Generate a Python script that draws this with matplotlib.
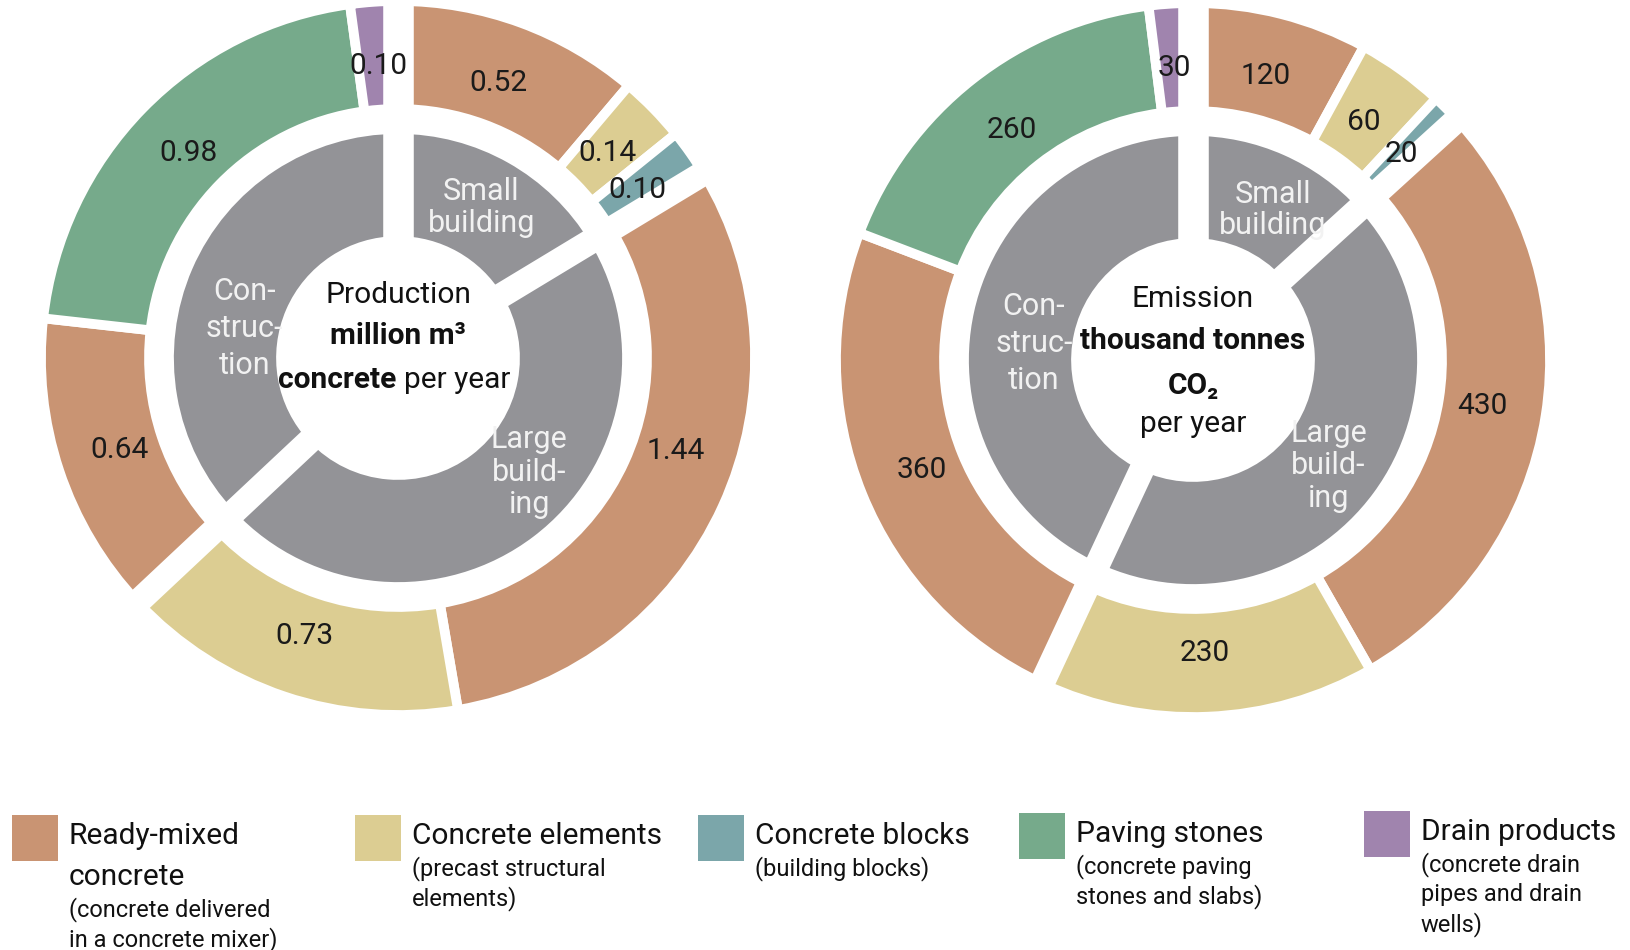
import numpy as np
import matplotlib.pyplot as plt
from matplotlib.patches import Rectangle

plt.rcParams['font.family'] = ['Roboto', 'DejaVu Sans']

# product categories and colours
products = ['Ready-mixed concrete', 'Concrete elements', 'Concrete blocks',
            'Paving stones', 'Drain products']
colors = {'Ready-mixed concrete': '#C99473', 'Concrete elements': '#DCCD92',
          'Concrete blocks': '#7BA6AA', 'Paving stones': '#76AA8B',
          'Drain products': '#A084AE'}
grey = '#939397'

# sectors (inner ring), clockwise from 12 o'clock
sectors = ['Small building', 'Large building', 'Construction']
sector_text = ['Small\nbuilding', 'Large\nbuild-\ning', 'Con-\nstruc-\ntion']

# outer ring per sector
prod_products = [['Ready-mixed concrete', 'Concrete elements', 'Concrete blocks'],
                 ['Ready-mixed concrete', 'Concrete elements'],
                 ['Ready-mixed concrete', 'Paving stones', 'Drain products']]
prod_values = [[0.52, 0.14, 0.10],
               [1.44, 0.73],
               [0.64, 0.98, 0.10]]
prod_labels = [['0.52', '0.14', '0.10'], ['1.44', '0.73'], ['0.64', '0.98', '0.10']]

emis_products = prod_products
emis_values = [[120, 60, 20],
               [430, 230],
               [360, 260, 30]]
emis_labels = [['120', '60', '20'], ['430', '230'], ['360', '260', '30']]

legend_titles = [['Ready-mixed', 'concrete'], ['Concrete elements'], ['Concrete blocks'],
                 ['Paving stones'], ['Drain products']]
legend_subs = [['(concrete delivered', 'in a concrete mixer)'],
               ['(precast structural', 'elements)'],
               ['(building blocks)'],
               ['(concrete paving', 'stones and slabs)'],
               ['(concrete drain', 'pipes and drain', 'wells)']]

W, H = 1631, 950
fig = plt.figure(figsize=(W / 100, H / 100), dpi=100)
ax = fig.add_axes([0, 0, 1, 1])

R_OUT, W_OUT = 357, 108
R_IN, W_IN = 229, 112
LW = 7
FS = 21.5


def donut(cx, cy, prods, vals, labels, sector_pos, center_lines, nudge):
    flat_v = [v for grp in vals for v in grp]
    flat_c = [colors[p] for grp in prods for p in grp]
    sec_v = [sum(g) for g in vals]
    total = sum(flat_v)
    kw = dict(startangle=90, counterclock=False, center=(cx, cy))
    ax.pie(flat_v, colors=flat_c, radius=R_OUT,
           wedgeprops=dict(width=W_OUT, edgecolor='white', linewidth=LW), **kw)
    ax.pie(sec_v, colors=[grey] * len(sec_v), radius=R_IN,
           wedgeprops=dict(width=W_IN, edgecolor='white', linewidth=LW), **kw)

    # wide white gaps between sectors
    bounds = np.concatenate([[0], np.cumsum(sec_v)])[:-1] / total
    for i, f in enumerate(bounds):
        a = np.deg2rad(90 - 360 * f)
        ax.plot([cx, cx + 420 * np.cos(a)], [cy, cy + 420 * np.sin(a)],
                color='white', lw=22 if i == 0 else 18, solid_capstyle='butt')

    # value labels in the middle of each outer wedge
    cum = np.cumsum(flat_v) - np.array(flat_v) / 2
    rl = 293
    for k, (c, lab) in enumerate(zip(cum, [l for g in labels for l in g])):
        a = np.deg2rad(90 - 360 * c / total - nudge.get(k, 0))
        ax.text(cx + rl * np.cos(a), cy + rl * np.sin(a), lab, ha='center',
                va='center', fontsize=FS, color='#1a1a1a')

    # sector labels
    for txt, (ang, r, ls) in zip(sector_text, sector_pos):
        a = np.deg2rad(90 - ang)
        ax.text(cx + r * np.cos(a), cy + r * np.sin(a), txt, ha='center',
                va='center', fontsize=22, color='#F2F2F2', linespacing=ls)

    for dy, parts in center_lines:
        for dx, txt, ha, weight in parts:
            ax.text(cx + dx, cy - dy, txt, ha=ha, va='center', fontsize=FS,
                    fontweight=weight, color='#111111')


donut(398, H - 358, prod_products, prod_values, prod_labels,
      [(29, 172, 1.11), (131, 174, 1.15), (281, 156, 1.34)],
      [(-63, [(0, 'Production', 'center', 'normal')]),
       (-22, [(0, 'million m³', 'center', 'bold')]),
       (22, [(-2, 'concrete', 'right', 'bold'), (6, 'per year', 'left', 'normal')])],
      {3: -6})

donut(1193, H - 360, emis_products, emis_values, emis_labels,
      [(28, 170, 1.11), (128, 172, 1.15), (276, 160, 1.34)],
      [(-61, [(0, 'Emission', 'center', 'normal')]),
       (-19, [(0, 'thousand tonnes', 'center', 'bold')]),
       (26, [(0, 'CO₂', 'center', 'bold')]),
       (64, [(0, 'per year', 'center', 'normal')])],
      {})

# legend
sq_x = [12, 355, 698, 1019, 1364]
sq_y = [815, 815, 815, 813, 811]
for x, y, p, t, s in zip(sq_x, sq_y, products, legend_titles, legend_subs):
    ax.add_patch(Rectangle((x, H - y - 46), 46, 46, color=colors[p], lw=0))
    ty = y + 21
    for i, line in enumerate(t):
        ax.text(x + 57, H - (ty + 41 * i), line, ha='left', va='center',
                fontsize=FS, color='#111111')
    sy = ty + 41 * (len(t) - 1) + 33
    for j, line in enumerate(s):
        ax.text(x + 57, H - (sy + 30 * j), line, ha='left', va='center',
                fontsize=17, color='#111111')

ax.set_xlim(0, W)
ax.set_ylim(0, H)
ax.set_aspect('equal')
ax.axis('off')
fig.savefig('out.png', dpi=100)
